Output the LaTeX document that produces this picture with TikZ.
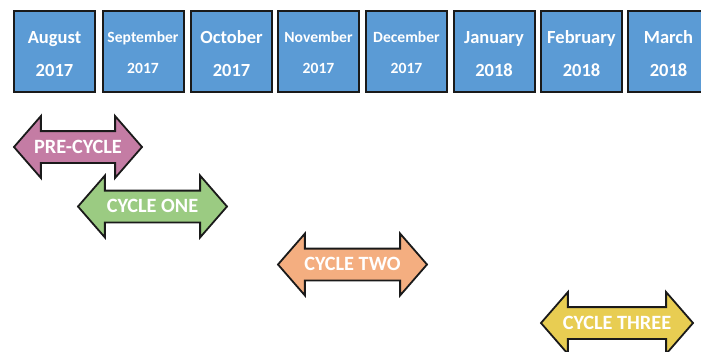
\documentclass[tikz,border=0pt]{standalone}
\usepackage{fontspec}
\setmainfont{Carlito}
\usetikzlibrary{shapes.arrows}
\definecolor{boxblue}{HTML}{5B9BD5}
\definecolor{pinkc}{HTML}{C47CA4}
\definecolor{greenc}{HTML}{9BCB82}
\definecolor{orangec}{HTML}{F4AE80}
\definecolor{yellowc}{HTML}{E8CD52}
\definecolor{edge}{HTML}{1A1A1A}
\tikzset{
  month/.style={draw=edge, line width=2pt, fill=boxblue, minimum width=81pt, minimum height=81pt, inner sep=0pt},
  mtxt/.style={text=white, font=\bfseries\fontsize{18.5}{20}\selectfont, anchor=base, inner sep=0pt},
  stxt/.style={text=white, font=\bfseries\fontsize{15.6}{18}\selectfont, anchor=base, inner sep=0pt},
  cyc/.style={double arrow, draw=edge, line width=1.8pt, text=white,
    font=\bfseries\fontsize{20.3}{22}\selectfont, text height=12.3pt, text depth=0pt,
    inner xsep=0pt, inner ysep=8.85pt, double arrow head extend=15pt,
    double arrow tip angle=98, minimum width=60pt}
}
\begin{document}
\begin{tikzpicture}[x=1pt,y=-1pt]
\useasboundingbox (0,0) rectangle (701,351);
\fill[white] (0,0) rectangle (701,351);
\clip (0,0) rectangle (701,351);
% month boxes
\node[month] (aug) at (54.5,51.5) {};
\node[month] (sep) at (143,51.5) {};
\node[month] (oct) at (231.5,51.5) {};
\node[month] (nov) at (318.5,51.5) {};
\node[month] (dec) at (406.5,51.5) {};
\node[month] (jan) at (494,51.5) {};
\node[month] (feb) at (581.5,51.5) {};
\node[month] (mar) at (668.5,51.5) {};
\node[mtxt] (augm) at (54.5,43.5) {August};
\node[mtxt] (augy) at (54.5,76) {2017};
\node[stxt] (sepm) at (143,42.5) {September};
\node[stxt] (sepy) at (143,73.5) {2017};
\node[mtxt] (octm) at (231.5,43.5) {October};
\node[mtxt] (octy) at (231.5,76) {2017};
\node[stxt] (novm) at (318.5,42.5) {November};
\node[stxt] (novy) at (318.5,73.5) {2017};
\node[stxt] (decm) at (406.5,42.5) {December};
\node[stxt] (decy) at (406.5,73.5) {2017};
\node[mtxt] (janm) at (494,43.5) {January};
\node[mtxt] (jany) at (494,76) {2018};
\node[mtxt] (febm) at (581.5,43.5) {February};
\node[mtxt] (feby) at (581.5,76) {2018};
\node[mtxt] (marm) at (668.5,43.5) {March};
\node[mtxt] (mary) at (668.5,76) {2018};
% cycle arrows
\node[cyc, fill=pinkc, minimum height=128pt] (pre) at (78,147) {PRE-CYCLE};
\node[cyc, fill=greenc, minimum height=149pt] (one) at (152.5,206.5) {CYCLE ONE};
\node[cyc, fill=orangec, minimum height=149pt] (two) at (352.5,264.5) {CYCLE TWO};
\node[cyc, fill=yellowc, minimum height=152pt] (three) at (617,323) {CYCLE THREE};
\end{tikzpicture}
\end{document}
